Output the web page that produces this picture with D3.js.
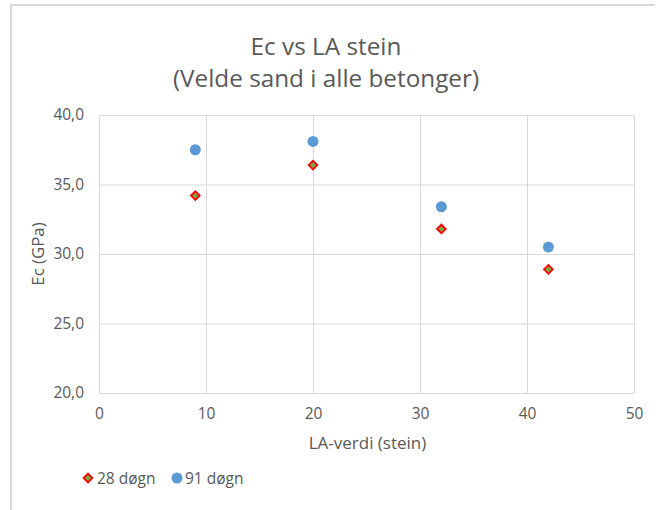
<!DOCTYPE html>
<html>
<head>
<meta charset="utf-8">
<script src="https://cdn.jsdelivr.net/npm/d3@7"></script>
<style>
  html, body { margin: 0; padding: 0; background: #fff; }
  svg { display: block; font-family: "Open Sans", "Segoe UI", sans-serif; }
</style>
</head>
<body>
<svg id="chart" width="665" height="510"></svg>
<script>
// LA-verdi for each stone type
const laValues = [9, 20, 32, 42];
// Ec (GPa) after 28 and 91 days of curing
const ec28 = [34.2, 36.4, 31.8, 28.9];
const ec91 = [37.5, 38.1, 33.4, 30.5];
const seriesNames = ["28 døgn", "91 døgn"];
const xTicks = [0, 10, 20, 30, 40, 50];
const yTicks = [20, 25, 30, 35, 40];
const titleLines = ["Ec vs LA stein", "(Velde sand i alle betonger)"];
const xTitle = "LA-verdi (stein)";
const yTitle = "Ec (GPa)";

const svg = d3.select("#chart");
const plot = { left: 99, right: 634, top: 115, bottom: 393 };

const x = d3.scaleLinear().domain([0, 50]).range([plot.left, plot.right]);
const y = d3.scaleLinear().domain([20, 40]).range([plot.bottom, plot.top]);

const gridColor = "#d9d9d9";
const textColor = "#595959";

// chart frame (top and left edges)
svg.append("line").attr("x1", 11).attr("x2", 11).attr("y1", 4).attr("y2", 510)
  .attr("stroke", gridColor).attr("stroke-width", 2);
svg.append("line").attr("x1", 10).attr("x2", 655).attr("y1", 5).attr("y2", 5)
  .attr("stroke", gridColor).attr("stroke-width", 2);

// title
svg.append("g").selectAll("text").data(titleLines).join("text")
  .attr("x", 326).attr("y", (d, i) => 55 + i * 32)
  .attr("text-anchor", "middle")
  .attr("font-size", 24.3)
  .attr("fill", textColor)
  .text(d => d);

// gridlines via axes
const fmt = d3.format(".1f");
const yAxis = d3.axisLeft(y).tickValues(yTicks)
  .tickSize(-(plot.right - plot.left))
  .tickFormat(d => fmt(d).replace(".", ","));
const gy = svg.append("g").attr("transform", `translate(${plot.left},0)`).call(yAxis);
gy.select(".domain").remove();
gy.selectAll(".tick line").attr("stroke", gridColor).attr("stroke-width", 1);
gy.selectAll(".tick text").attr("x", -15).attr("font-size", 15.5)
  .attr("fill", textColor).attr("font-family", "Open Sans, sans-serif");

const xAxis = d3.axisBottom(x).tickValues(xTicks)
  .tickSize(-(plot.bottom - plot.top))
  .tickFormat(d3.format("d"));
const gx = svg.append("g").attr("transform", `translate(0,${plot.bottom})`).call(xAxis);
gx.select(".domain").remove();
gx.selectAll(".tick line").attr("stroke", gridColor).attr("stroke-width", 1);
gx.selectAll(".tick text").attr("y", 15).attr("font-size", 15.5)
  .attr("fill", textColor).attr("font-family", "Open Sans, sans-serif");

// axis titles
svg.append("text")
  .attr("transform", `translate(44,${(plot.top + plot.bottom) / 2}) rotate(-90)`)
  .attr("text-anchor", "middle").attr("font-size", 16.8).attr("fill", textColor)
  .text(yTitle);
svg.append("text")
  .attr("x", (plot.left + plot.right) / 2 + 1).attr("y", 449)
  .attr("text-anchor", "middle").attr("font-size", 17).attr("fill", textColor)
  .text(xTitle);

// markers: red-edged green diamonds and plain blue circles
function drawDiamond(sel) {
  sel.attr("d", d3.symbol().type(d3.symbolSquare).size(38))
    .attr("fill", "#70ad47").attr("stroke", "#ff0000").attr("stroke-width", 1.8);
}

const pts28 = laValues.map((v, i) => ({ x: v, y: ec28[i] }));
const pts91 = laValues.map((v, i) => ({ x: v, y: ec91[i] }));

svg.append("g").selectAll("path").data(pts28).join("path")
  .attr("transform", d => `translate(${x(d.x)},${y(d.y)}) rotate(45)`)
  .call(drawDiamond);

svg.append("g").selectAll("circle").data(pts91).join("circle")
  .attr("cx", d => x(d.x)).attr("cy", d => y(d.y)).attr("r", 5.5)
  .attr("fill", "#5b9bd5");

// legend
const lg = svg.append("g");
lg.append("path").attr("transform", "translate(88,478) rotate(45)").call(drawDiamond);
lg.append("text").attr("x", 97).attr("y", 483.5).attr("font-size", 15.5).attr("fill", textColor)
  .text(seriesNames[0]);
lg.append("circle").attr("cx", 177).attr("cy", 478).attr("r", 5.5).attr("fill", "#5b9bd5");
lg.append("text").attr("x", 185).attr("y", 483.5).attr("font-size", 15.5).attr("fill", textColor)
  .text(seriesNames[1]);
</script>
</body>
</html>
